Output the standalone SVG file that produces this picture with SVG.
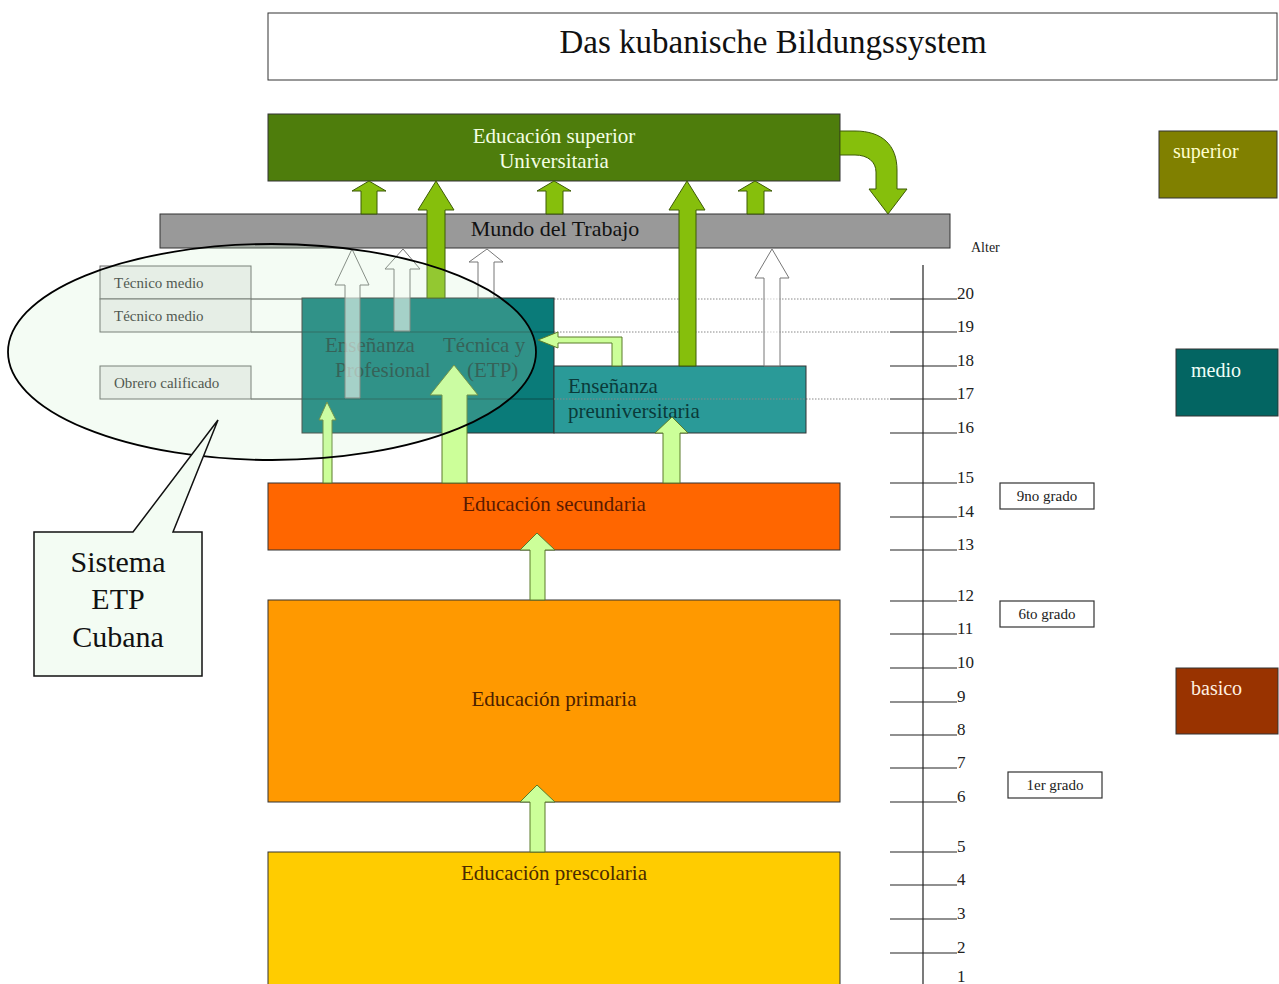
<svg xmlns="http://www.w3.org/2000/svg" width="1279" height="984" viewBox="0 0 1279 984">
<defs>
<style>
.t{font-family:"Liberation Serif","Times New Roman",serif;}
.box{stroke:#333;stroke-width:1}
.dg{fill:#86bf0c;stroke:#3d5a06;stroke-width:1}
.lg{fill:#ccff99;stroke:#5b7b2b;stroke-width:1}
.wa{fill:#ffffff;fill-opacity:0.6;stroke:#777;stroke-width:1}
.tick{stroke:#222;stroke-width:1.2}
.age{font-size:17px;fill:#222}
.dot{stroke:#888;stroke-width:1;stroke-dasharray:1.5 1.5}
.sol{stroke:#333;stroke-width:1}
.tab{fill:#eeeeee;stroke:#666;stroke-width:1}
.tabt{font-size:15px;fill:#333}
.grade{fill:#fff;stroke:#333;stroke-width:1.2}
</style>
</defs>
<rect width="1279" height="984" fill="#ffffff"/>

<g id="title">
<rect x="268" y="13" width="1009" height="67" fill="#fff" class="box"/>
<text x="773" y="53" class="t" font-size="33" text-anchor="middle" fill="#111">Das kubanische Bildungssystem</text>
</g>

<g id="mundo">
<rect x="160" y="214" width="790" height="34" fill="#999999" class="box"/>
<text x="555" y="236" class="t" font-size="22" text-anchor="middle" fill="#111">Mundo del Trabajo</text>
</g>

<g id="superior">
<rect x="268" y="114" width="572" height="67" fill="#4e7d0c" class="box"/>
<text x="554" y="143" class="t" font-size="21" text-anchor="middle" fill="#f4ffe4">Educación superior</text>
<text x="554" y="168" class="t" font-size="21" text-anchor="middle" fill="#f4ffe4">Universitaria</text>
</g>

<g id="guides">
<line x1="251" y1="299" x2="554" y2="299" class="sol"/>
<line x1="251" y1="332" x2="554" y2="332" class="sol"/>
<line x1="251" y1="399" x2="554" y2="399" class="sol"/>
<line x1="554" y1="299" x2="890" y2="299" class="dot"/>
<line x1="554" y1="332" x2="890" y2="332" class="dot"/>
<line x1="554" y1="399" x2="890" y2="399" class="dot"/>
</g>

<g id="etp">
<rect x="302" y="298" width="252" height="135" fill="#0a7b79" class="box"/>
<line x1="302" y1="332" x2="554" y2="332" stroke="#0b4f4d" stroke-width="1"/>
<line x1="302" y1="399" x2="554" y2="399" stroke="#0b4f4d" stroke-width="1"/>
<text x="325" y="352" class="t" font-size="21" fill="#123f3d">Enseñanza</text>
<text x="443" y="352" class="t" font-size="21" fill="#123f3d">Técnica y</text>
<text x="335" y="377" class="t" font-size="21" fill="#123f3d">Profesional</text>
<text x="467" y="377" class="t" font-size="21" fill="#123f3d">(ETP)</text>
</g>

<g id="preuniversitaria">
<rect x="554" y="366" width="252" height="67" fill="#2a9a98" class="box"/>
<line x1="554" y1="399" x2="806" y2="399" class="dot" stroke="#333"/>
<text x="568" y="393" class="t" font-size="21" fill="#0a3a3a">Enseñanza</text>
<text x="568" y="418" class="t" font-size="21" fill="#0a3a3a">preuniversitaria</text>
</g>

<g id="secundaria">
<rect x="268" y="483" width="572" height="67" fill="#ff6600" class="box"/>
<text x="554" y="511" class="t" font-size="21" text-anchor="middle" fill="#5a1a00">Educación secundaria</text>
</g>

<g id="primaria">
<rect x="268" y="600" width="572" height="202" fill="#ff9900" class="box"/>
<text x="554" y="706" class="t" font-size="21" text-anchor="middle" fill="#4a2000">Educación primaria</text>
</g>

<g id="prescolaria">
<rect x="268" y="852" width="572" height="140" fill="#ffcc00" class="box"/>
<text x="554" y="880" class="t" font-size="21" text-anchor="middle" fill="#4a2a00">Educación prescolaria</text>
</g>

<g id="connectors">
<path class="dg" d="M840,131 L855,131 C882,131 897,145 897,170 L897,189 L907,189 L888,214 L869,189 L876,189 L876,172 C876,162 868,155 855,155 L840,155 Z"/>
<path class="dg" d="M361,214 L361,191 L352,191 L369,181 L386,191 L377,191 L377,214 Z"/>
<path class="dg" d="M427,298 L427,210 L418,210 L436,181 L454,210 L445,210 L445,298 Z"/>
<path class="dg" d="M546,214 L546,191 L537,191 L554,181 L571,191 L563,191 L563,214 Z"/>
<path class="dg" d="M679,366 L679,210 L669,210 L687,181 L705,210 L696,210 L696,366 Z"/>
<path class="dg" d="M747,214 L747,191 L738,191 L755,181 L772,191 L764,191 L764,214 Z"/>
<path class="wa" d="M345,398 L345,285 L335,285 L352,249 L369,285 L360,285 L360,398 Z"/>
<path class="wa" d="M394,331 L394,269 L385,269 L403,249 L420,269 L410,269 L410,331 Z"/>
<path class="wa" d="M478,298 L478,262 L469,262 L487,249 L503,262 L494,262 L494,298 Z"/>
<path class="wa" d="M764,366 L764,278 L755,278 L772,249 L789,278 L780,278 L780,366 Z"/>
<path class="lg" d="M622,366 L622,337 L558,337 L558,332 L538,340 L558,348 L558,343 L612,343 L612,366 Z"/>
<path class="lg" d="M323,483 L323,420 L319,420 L327,402 L336,420 L332,420 L332,483 Z"/>
<path class="lg" d="M442,483 L442,395 L430,395 L454,365 L478,395 L467,395 L467,483 Z"/>
<path class="lg" d="M663,483 L663,433 L655,433 L672,417 L688,433 L680,433 L680,483 Z"/>
<path class="lg" d="M530,600 L530,550 L520,550 L537,533 L555,550 L545,550 L545,600 Z"/>
<path class="lg" d="M530,852 L530,802 L520,802 L537,785 L555,802 L545,802 L545,852 Z"/>
</g>

<g id="tecnico-medio-1">
<rect x="100" y="266" width="151" height="33" class="tab"/>
<text x="114" y="288" class="t tabt">Técnico medio</text>
</g>
<g id="tecnico-medio-2">
<rect x="100" y="299" width="151" height="33" class="tab"/>
<text x="114" y="321" class="t tabt">Técnico medio</text>
</g>
<g id="obrero-calificado">
<rect x="100" y="366" width="151" height="33" class="tab"/>
<text x="114" y="388" class="t tabt">Obrero calificado</text>
</g>

<g id="etp-ellipse">
<ellipse cx="272" cy="352" rx="264" ry="108" fill="#c8f0c8" fill-opacity="0.2" stroke="#000" stroke-width="1.8"/>
</g>

<g id="callout">
<path d="M34,532 L133,532 L218,420 L173,532 L202,532 L202,676 L34,676 Z" fill="#f3fcf3" stroke="#111" stroke-width="1.5"/>
<text x="118" y="572" class="t" font-size="30" text-anchor="middle" fill="#111">Sistema</text>
<text x="118" y="609" class="t" font-size="30" text-anchor="middle" fill="#111">ETP</text>
<text x="118" y="647" class="t" font-size="30" text-anchor="middle" fill="#111">Cubana</text>
</g>

<g id="age-axis">
<text x="971" y="252" class="t" font-size="14" fill="#222">Alter</text>
<line x1="923" y1="265" x2="923" y2="984" class="tick"/>
<g class="tick">
<line x1="890" y1="299" x2="957" y2="299"/>
<line x1="890" y1="332" x2="957" y2="332"/>
<line x1="890" y1="366" x2="957" y2="366"/>
<line x1="890" y1="399" x2="957" y2="399"/>
<line x1="890" y1="433" x2="957" y2="433"/>
<line x1="890" y1="483" x2="957" y2="483"/>
<line x1="890" y1="517" x2="957" y2="517"/>
<line x1="890" y1="550" x2="957" y2="550"/>
<line x1="890" y1="601" x2="957" y2="601"/>
<line x1="890" y1="634" x2="957" y2="634"/>
<line x1="890" y1="668" x2="957" y2="668"/>
<line x1="890" y1="702" x2="957" y2="702"/>
<line x1="890" y1="735" x2="957" y2="735"/>
<line x1="890" y1="768" x2="957" y2="768"/>
<line x1="890" y1="802" x2="957" y2="802"/>
<line x1="890" y1="852" x2="957" y2="852"/>
<line x1="890" y1="885" x2="957" y2="885"/>
<line x1="890" y1="919" x2="957" y2="919"/>
<line x1="890" y1="953" x2="957" y2="953"/>
</g>
<g class="t age">
<text x="957" y="299">20</text>
<text x="957" y="332">19</text>
<text x="957" y="366">18</text>
<text x="957" y="399">17</text>
<text x="957" y="433">16</text>
<text x="957" y="483">15</text>
<text x="957" y="517">14</text>
<text x="957" y="550">13</text>
<text x="957" y="601">12</text>
<text x="957" y="634">11</text>
<text x="957" y="668">10</text>
<text x="957" y="702">9</text>
<text x="957" y="735">8</text>
<text x="957" y="768">7</text>
<text x="957" y="802">6</text>
<text x="957" y="852">5</text>
<text x="957" y="885">4</text>
<text x="957" y="919">3</text>
<text x="957" y="953">2</text>
<text x="957" y="982">1</text>
</g>
</g>

<g id="grade-9">
<rect x="1000" y="483" width="94" height="26" class="grade"/>
<text x="1047" y="501" class="t" font-size="15" text-anchor="middle" fill="#222">9no grado</text>
</g>
<g id="grade-6">
<rect x="1000" y="601" width="94" height="26" class="grade"/>
<text x="1047" y="619" class="t" font-size="15" text-anchor="middle" fill="#222">6to grado</text>
</g>
<g id="grade-1">
<rect x="1008" y="772" width="94" height="26" class="grade"/>
<text x="1055" y="790" class="t" font-size="15" text-anchor="middle" fill="#222">1er grado</text>
</g>

<g id="legend-superior">
<rect x="1159" y="131" width="118" height="67" fill="#808000" class="box"/>
<text x="1173" y="158" class="t" font-size="20" fill="#ffffcc">superior</text>
</g>
<g id="legend-medio">
<rect x="1176" y="349" width="102" height="67" fill="#036562" class="box"/>
<text x="1191" y="377" class="t" font-size="20" fill="#f0fff8">medio</text>
</g>
<g id="legend-basico">
<rect x="1176" y="668" width="102" height="66" fill="#993300" class="box"/>
<text x="1191" y="695" class="t" font-size="20" fill="#fff0e0">basico</text>
</g>
</svg>
